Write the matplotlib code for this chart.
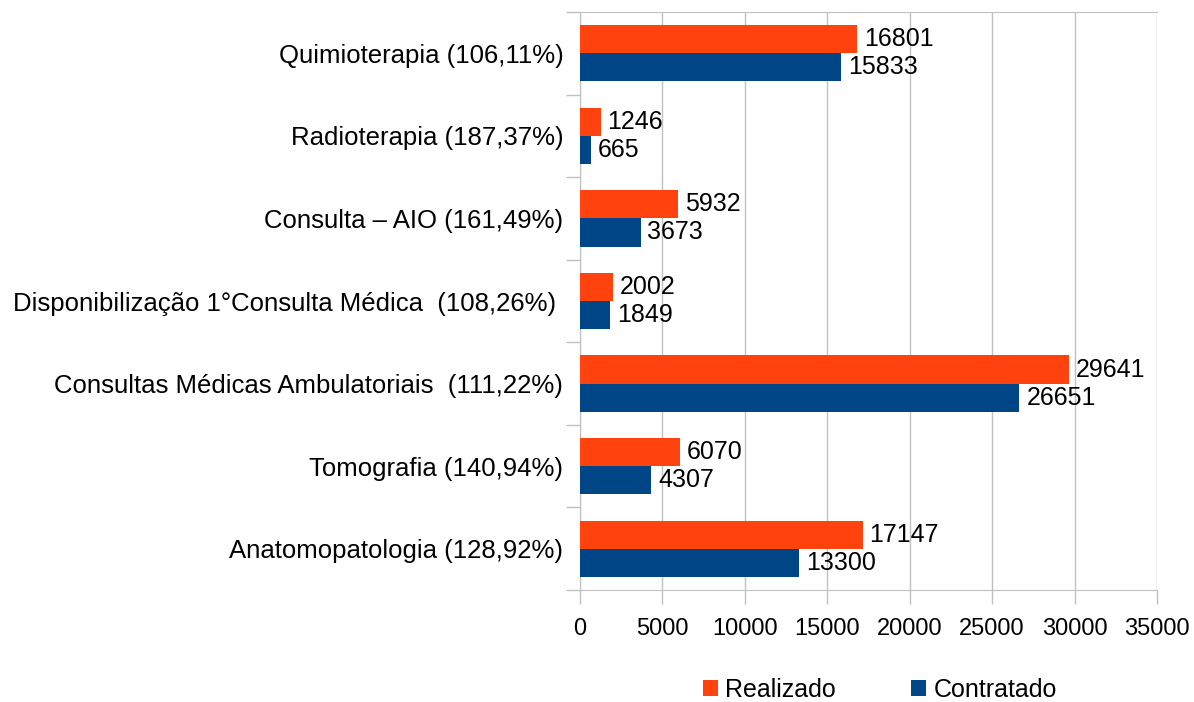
import numpy as np
import matplotlib
matplotlib.use("Agg")
import matplotlib.pyplot as plt
from matplotlib.ticker import FixedLocator, NullFormatter

plt.rcParams['font.family'] = ['Liberation Sans', 'DejaVu Sans']

# ── Data ──────────────────────────────────────────────────────────────────────
categories = [
    "Quimioterapia (106,11%)",
    "Radioterapia (187,37%)",
    "Consulta – AIO (161,49%)",
    "Disponibilização 1°Consulta Médica  (108,26%) ",
    "Consultas Médicas Ambulatoriais  (111,22%)",
    "Tomografia (140,94%)",
    "Anatomopatologia (128,92%)",
]
realizado = [16801, 1246, 5932, 2002, 29641, 6070, 17147]
contratado = [15833, 665, 3673, 1849, 26651, 4307, 13300]
xticks = [0, 5000, 10000, 15000, 20000, 25000, 30000, 35000]

COLOR_REAL = "#FF420E"
COLOR_CONT = "#004586"
GRID = "#C0C0C0"
FS = 18

fig = plt.figure(figsize=(11.94, 7.02), dpi=100)
ax = fig.add_axes([580 / 1194, 1 - 590 / 702, 577 / 1194, 578 / 702])

y = np.arange(len(categories))
h = 0.34
bars_r = ax.barh(y - h / 2, realizado, height=h, color=COLOR_REAL, label="Realizado", zorder=3)
bars_c = ax.barh(y + h / 2, contratado, height=h, color=COLOR_CONT, label="Contratado", zorder=3)

for bars in (bars_r, bars_c):
    for b in bars:
        ax.annotate(f"{int(b.get_width())}", (b.get_width(), b.get_y() + b.get_height() / 2),
                    xytext=(5, 0), textcoords="offset points", ha="left", va="center",
                    fontsize=FS, color="black")

ax.set_xlim(0, 35000)
ax.set_ylim(len(categories) - 0.5, -0.5)
ax.set_xticks(xticks)
ax.set_xticklabels([str(t) for t in xticks], fontsize=17)

# category labels centred, ticks at the boundaries
ax.yaxis.set_major_locator(FixedLocator(np.arange(len(categories) + 1) - 0.5))
ax.yaxis.set_major_formatter(NullFormatter())
ax.yaxis.set_minor_locator(FixedLocator(y))
ax.set_yticklabels(categories, minor=True, fontsize=18.5)
ax.tick_params(axis="y", which="minor", length=0, pad=12)
ax.tick_params(axis="y", which="major", length=10, color=GRID, width=1)
ax.tick_params(axis="x", length=10, color=GRID, width=1, pad=10)

ax.grid(axis="x", color=GRID, linewidth=1, zorder=0)
for side in ("left", "bottom", "top"):
    ax.spines[side].set_color(GRID)
ax.spines["right"].set_visible(False)

fig.legend(handles=[bars_r, bars_c], loc="center", bbox_to_anchor=(880 / 1194, 1 - 690 / 702),
           ncol=2, frameon=False, fontsize=FS, handlelength=0.6, handleheight=0.6,
           columnspacing=3.0, handletextpad=0.3)

fig.savefig("out.png", dpi=100)
